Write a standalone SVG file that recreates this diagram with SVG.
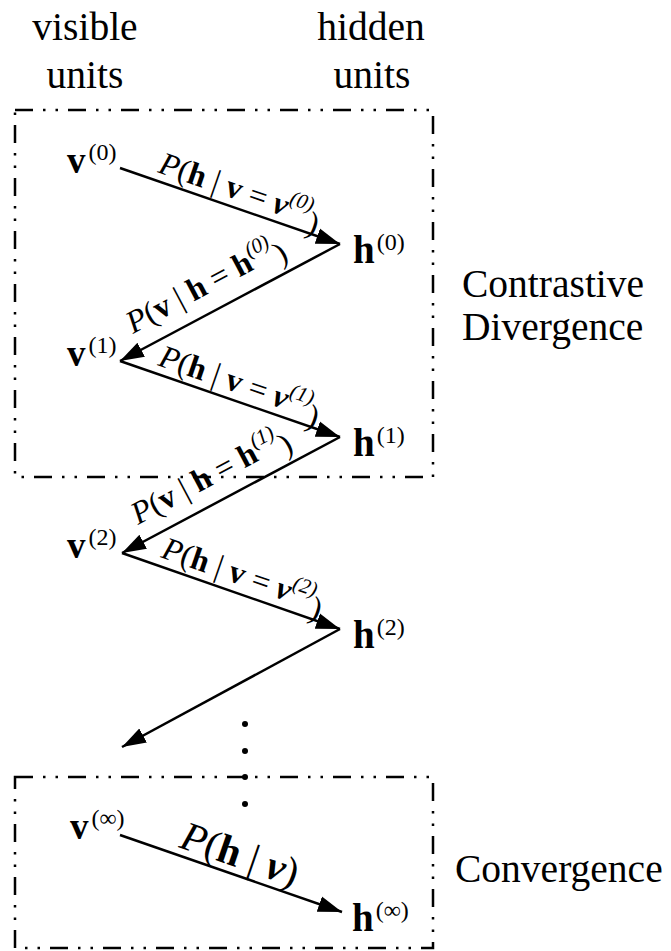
<svg xmlns="http://www.w3.org/2000/svg" width="671" height="951" viewBox="0 0 671 951" font-family="'Liberation Serif', Tinos, 'Times New Roman', 'DejaVu Serif', serif">
<defs>
<style>
text{font-family:"Liberation Serif",Tinos,"Times New Roman","DejaVu Serif",serif;fill:#000}
.big{font-size:39.5px}
.nv{font-size:37px;font-weight:bold}
.nh{font-size:39px;font-weight:bold}
.sup{font-size:24px;font-weight:normal}
.el{font-size:32px}
.it{font-style:italic}
.b{font-weight:bold}
.bi{font-weight:bold;font-style:italic}
.es{font-size:21px;font-style:italic}
.box{fill:none;stroke:#000;stroke-width:2.5;stroke-dasharray:18 10 2.5 10 2.5 10}
.arr{stroke:#000;stroke-width:2.5;fill:none;marker-end:url(#ah)}
</style>
<marker id="ah" markerUnits="userSpaceOnUse" markerWidth="26" markerHeight="18" refX="24" refY="9" orient="auto">
<path d="M0,1 L24,9 L0,17 z" fill="#000"/>
</marker>
</defs>
<rect width="671" height="951" fill="#fff"/>

<g id="headers">
<text class="big" x="85" y="40" text-anchor="middle">visible</text>
<text class="big" x="85" y="88" text-anchor="middle">units</text>
<text class="big" x="371" y="40" text-anchor="middle">hidden</text>
<text class="big" x="372" y="88" text-anchor="middle">units</text>
</g>

<g id="box-cd">
<rect class="box" x="15" y="110" width="418" height="367"/>
<text class="big" x="462" y="297">Contrastive</text>
<text class="big" x="462" y="340">Divergence</text>
</g>

<g id="box-conv">
<rect class="box" x="15" y="777" width="418" height="171"/>
<text class="big" x="455" y="882">Convergence</text>
</g>

<g id="dots">
<circle cx="245" cy="724" r="3"/>
<circle cx="245" cy="751" r="3"/>
<circle cx="245" cy="777" r="3"/>
<circle cx="245" cy="804" r="3"/>
</g>

<g id="connectors">
<line class="arr" x1="120" y1="168" x2="340" y2="244"/>
<line class="arr" x1="340" y1="244" x2="120" y2="361"/>
<line class="arr" x1="120" y1="361" x2="340" y2="437"/>
<line class="arr" x1="340" y1="437" x2="122" y2="553"/>
<line class="arr" x1="122" y1="553" x2="340" y2="629"/>
<line class="arr" x1="340" y1="629" x2="122" y2="747"/>
<line class="arr" x1="120" y1="835" x2="342" y2="912"/>
</g>

<g id="edge-labels">
<text class="el" transform="translate(157,172) rotate(19.1)"><tspan class="it">P</tspan>(<tspan class="b">h</tspan> | <tspan class="b">v</tspan> = <tspan class="bi">v</tspan><tspan class="es" dy="-13">(0)</tspan><tspan dy="21">)</tspan></text>
<text class="el" transform="translate(133,334) rotate(-28)"><tspan class="it">P</tspan>(<tspan class="b">v</tspan> | <tspan class="b">h</tspan> = <tspan class="b">h</tspan><tspan class="es" dy="-13">(0)</tspan><tspan dy="21">)</tspan></text>
<text class="el" transform="translate(157,365) rotate(19.1)"><tspan class="it">P</tspan>(<tspan class="b">h</tspan> | <tspan class="b">v</tspan> = <tspan class="bi">v</tspan><tspan class="es" dy="-13">(1)</tspan><tspan dy="21">)</tspan></text>
<text class="el" transform="translate(138,525) rotate(-28)"><tspan class="it">P</tspan>(<tspan class="b">v</tspan> | <tspan class="b">h</tspan> = <tspan class="b">h</tspan><tspan class="es" dy="-13">(1)</tspan><tspan dy="21">)</tspan></text>
<text class="el" transform="translate(160,557) rotate(19.1)"><tspan class="it">P</tspan>(<tspan class="b">h</tspan> | <tspan class="b">v</tspan> = <tspan class="bi">v</tspan><tspan class="es" dy="-13">(2)</tspan><tspan dy="21">)</tspan></text>
<text style="font-size:41px" transform="translate(178,847) rotate(19.1)"><tspan class="it">P</tspan>(<tspan class="b">h</tspan> | <tspan class="bi">v</tspan>)</text>
</g>

<g id="node-v0"><text class="nv" x="67" y="173">v<tspan class="sup" dx="3" dy="-13">(0)</tspan></text></g>
<g id="node-h0"><text class="nh" x="353" y="263">h<tspan class="sup" dx="2" dy="-13">(0)</tspan></text></g>
<g id="node-v1"><text class="nv" x="67" y="366">v<tspan class="sup" dx="3" dy="-13">(1)</tspan></text></g>
<g id="node-h1"><text class="nh" x="353" y="456">h<tspan class="sup" dx="2" dy="-13">(1)</tspan></text></g>
<g id="node-v2"><text class="nv" x="67" y="558">v<tspan class="sup" dx="3" dy="-13">(2)</tspan></text></g>
<g id="node-h2"><text class="nh" x="353" y="648">h<tspan class="sup" dx="2" dy="-13">(2)</tspan></text></g>
<g id="node-vinf"><text class="nv" x="70" y="839">v<tspan class="sup" dx="3" dy="-13">(∞)</tspan></text></g>
<g id="node-hinf"><text class="nh" x="352" y="931">h<tspan class="sup" dx="2" dy="-13">(∞)</tspan></text></g>
</svg>
